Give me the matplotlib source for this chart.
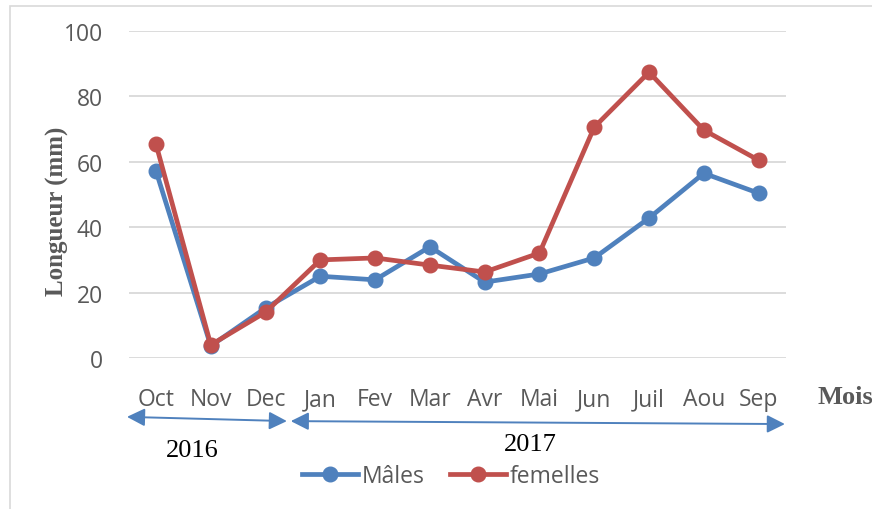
import matplotlib.pyplot as plt
import matplotlib.transforms as mtransforms
from matplotlib.patches import Rectangle

mois = ['Oct', 'Nov', 'Dec', 'Jan', 'Fev', 'Mar', 'Avr', 'Mai', 'Jun', 'Juil', 'Aou', 'Sep']
males = [57.2, 3.7, 15.3, 25.0, 23.9, 34.0, 23.2, 25.7, 30.6, 42.8, 56.5, 50.4]
femelles = [65.4, 4.0, 14.0, 30.0, 30.6, 28.4, 26.3, 32.1, 70.6, 87.4, 69.7, 60.5]

bleu = '#4f81bd'
rouge = '#c0504d'
gris = '#595959'

fig = plt.figure(figsize=(8.72, 5.10), dpi=100)
fig.patch.set_facecolor('white')

# cadre gris autour du graphique
fig.patches.append(Rectangle((10 / 872, -0.1), 1.2, 1 - 7 / 510 + 0.1,
                             transform=fig.transFigure, fill=False,
                             edgecolor='#d9d9d9', linewidth=1.2))

ax = fig.add_axes([128.6 / 872, 1 - 359 / 510, (786 - 128.6) / 872, 327 / 510])
x = list(range(len(mois)))

ax.plot(x, males, color=bleu, lw=3.4, marker='o', ms=10.5, label='Mâles', zorder=3)
ax.plot(x, femelles, color=rouge, lw=3.4, marker='o', ms=10.5, label='femelles', zorder=4)

ax.set_xlim(-0.5, len(mois) - 0.5)
ax.set_ylim(0, 100)
ax.set_yticks(range(0, 101, 20))
ax.set_xticks(x)
ax.set_xticklabels(mois)
ax.grid(axis='y', color='#d9d9d9', lw=1.3)
ax.set_axisbelow(True)
for s in ax.spines.values():
    s.set_visible(False)
ax.tick_params(length=0, labelsize=16.5, labelcolor=gris)
ax.tick_params(axis='x', pad=21)
ax.tick_params(axis='y', pad=18.5)
for lab in ax.get_xticklabels() + ax.get_yticklabels():
    lab.set_family('Open Sans')

fig.text(57 / 872, 1 - 211 / 510, 'Longueur (mm)', rotation=90, ha='center', va='center',
         family='Liberation Serif', fontweight='bold', fontsize=18, color=gris)

trans = mtransforms.blended_transform_factory(ax.transData, ax.transAxes)
ax.text(12.08, -0.119, 'Mois', transform=trans, ha='left', va='center',
        family='Liberation Serif', fontweight='bold', fontsize=19, color=gris, clip_on=False)

# flèches des années
fleche = dict(arrowstyle='<|-|>,head_length=0.6,head_width=0.3', color=bleu, lw=1.4,
              mutation_scale=18, shrinkA=0, shrinkB=0)
ax.annotate('', xy=(-0.53, -0.180), xytext=(2.39, -0.193), xycoords=trans,
            textcoords=trans, arrowprops=fleche, annotation_clip=False)
ax.annotate('', xy=(2.46, -0.193), xytext=(11.48, -0.202), xycoords=trans,
            textcoords=trans, arrowprops=fleche, annotation_clip=False)
ax.text(0.66, -0.281, '2016', transform=trans, ha='center', va='center',
        family='Liberation Serif', fontsize=19, color='black')
ax.text(6.84, -0.263, '2017', transform=trans, ha='center', va='center',
        family='Liberation Serif', fontsize=19, color='black')

fig.legend(loc='center', bbox_to_anchor=(451 / 872, 1 - 477 / 510), ncol=2, frameon=False,
           handlelength=2.45, handletextpad=0.15, columnspacing=1.1,
           prop={'family': 'Open Sans', 'size': 16.5}, labelcolor=gris)

fig.savefig('out.png', dpi=100)
